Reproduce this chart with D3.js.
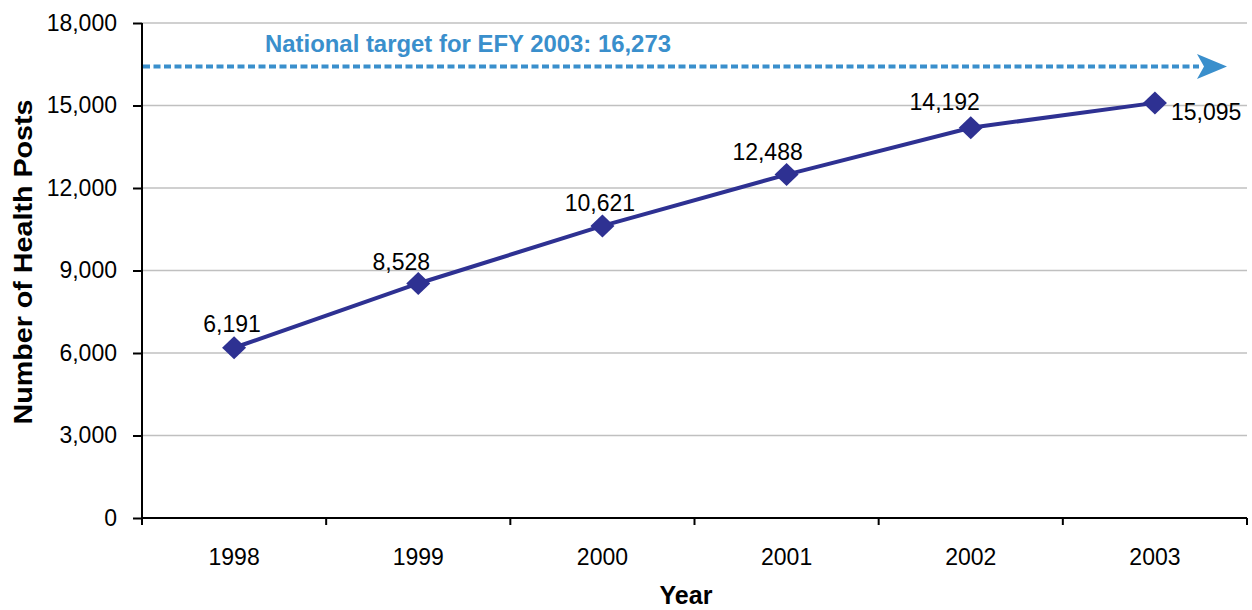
<!DOCTYPE html>
<html><head><meta charset="utf-8">
<script src="https://cdn.jsdelivr.net/npm/d3@7"></script>
<style>body{margin:0;background:#fff}svg{display:block}text{font-family:"Liberation Sans",Arial,sans-serif}</style>
</head><body><svg id="c" width="1252" height="610"></svg>
<script>
const years = ["1998","1999","2000","2001","2002","2003"];
const posts = [6191, 8528, 10621, 12488, 14192, 15095];
const yTicks = [0, 3000, 6000, 9000, 12000, 15000, 18000];
const targetValue = 16273;
const targetLabel = "National target for EFY 2003: 16,273";

const svg = d3.select("#c");
const m = {l:142, r:1247, t:23, b:518};
const x = d3.scaleBand().domain(years).range([m.l, m.r]);
const y = d3.scaleLinear().domain([0, 18000]).range([m.b, m.t]);
const fmt = d3.format(",");
const FF = '"Liberation Sans",Arial,sans-serif';

// gridlines
svg.append("g").selectAll("line").data(yTicks.filter(d=>d>0)).join("line")
  .attr("x1", m.l).attr("x2", m.r).attr("y1", d=>y(d)).attr("y2", d=>y(d))
  .attr("stroke", "#c0c0c0").attr("stroke-width", 1.5);

// y axis
const ya = svg.append("g").attr("transform", `translate(${m.l},0)`)
  .call(d3.axisLeft(y).tickValues(yTicks).tickFormat(fmt).tickSize(9).tickPadding(16));
ya.select(".domain").attr("stroke","#000").attr("stroke-width",2).attr("d", `M0,${m.t}V${m.b}`);
ya.selectAll(".tick line").attr("stroke","#000").attr("stroke-width",2);
ya.selectAll(".tick text").attr("font-size", 23).attr("fill","#000").attr("font-family",FF);

// x axis
const xa = svg.append("g").attr("transform", `translate(0,${m.b})`)
  .call(d3.axisBottom(x).tickSize(0).tickPadding(31));
xa.select(".domain").attr("stroke","#000").attr("stroke-width",2).attr("d", `M${m.l},0H${m.r}`);
xa.selectAll(".tick text").attr("font-size", 23).attr("fill","#000").attr("font-family",FF);
// boundary ticks
const bounds = years.map(d=>x(d)).concat([m.r]);
svg.append("g").selectAll("line").data(bounds).join("line")
  .attr("x1", d=>d).attr("x2", d=>d).attr("y1", m.b).attr("y2", m.b+7)
  .attr("stroke","#000").attr("stroke-width",2);

// target dashed arrow
const ty = y(targetValue) - 4;
svg.append("line").attr("x1", m.l+1).attr("x2", 1199).attr("y1", ty).attr("y2", ty)
  .attr("stroke","#3a8fcc").attr("stroke-width",4).attr("stroke-dasharray","7,3.5");
svg.append("path").attr("d", `M1197,${ty-12.5}L1227,${ty}L1197,${ty+12.5}L1204,${ty}Z`).attr("fill","#3a8fcc");
svg.append("text").attr("x", 265).attr("y", 52).attr("font-size", 23).attr("font-weight","bold")
  .attr("fill","#3a8fcc").attr("textLength", 406).attr("lengthAdjust","spacingAndGlyphs").text(targetLabel);

// line
const cx = d => x(d) + x.bandwidth()/2;
svg.append("path").datum(years.map((d,i)=>[cx(d), y(posts[i])]))
  .attr("d", d3.line()).attr("fill","none").attr("stroke","#2e3192").attr("stroke-width",4);
svg.append("g").selectAll("path").data(years).join("path")
  .attr("transform", (d,i)=>`translate(${cx(d)},${y(posts[i])})`)
  .attr("d", "M0,-11.5L12,0L0,11.5L-12,0Z").attr("fill","#2e3192");

// labels
const dxs = [-2, -17, -2.5, -19, -26, 16];
const dys = [-16, -13.5, -14.5, -14.6, -17.7, 17];
svg.append("g").selectAll("text").data(years).join("text")
  .attr("x", (d,i)=>cx(d)+dxs[i])
  .attr("y", (d,i)=>y(posts[i])+dys[i])
  .attr("text-anchor", (d,i)=> i===5 ? "start" : "middle")
  .attr("font-size", 23).attr("fill","#000")
  .text((d,i)=>fmt(posts[i]));

// axis titles
svg.append("text").attr("transform","translate(31.5,262) rotate(-90)").attr("text-anchor","middle")
  .attr("font-size",26).attr("font-weight","bold").attr("textLength",325).attr("lengthAdjust","spacingAndGlyphs")
  .text("Number of Health Posts");
svg.append("text").attr("x",686).attr("y",604).attr("text-anchor","middle")
  .attr("font-size",25).attr("font-weight","bold").text("Year");
</script></body></html>
